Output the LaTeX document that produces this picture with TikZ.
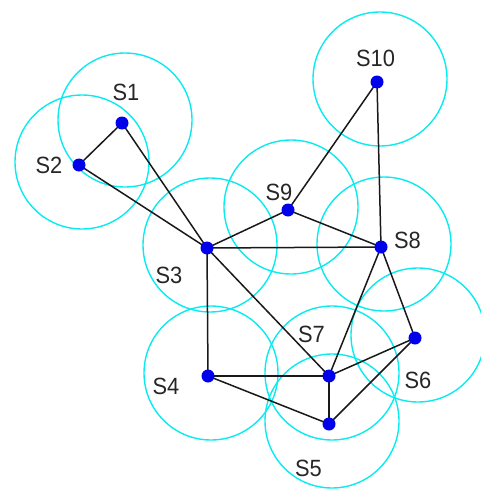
\documentclass[tikz,border=0pt]{standalone}
\usepackage{fontspec}
\setmainfont[FakeStretch=0.93]{Liberation Sans}
\usetikzlibrary{positioning}
\usetikzlibrary{backgrounds}
\definecolor{sensorblue}{RGB}{0,0,235}
\definecolor{rangecyan}{RGB}{10,235,240}
\tikzset{
  sensor/.style={circle, fill=sensorblue, inner sep=0pt, minimum size=13pt},
  rangering/.style={draw=rangecyan, line width=1.4pt},
  link/.style={draw=black!90, line width=1.5pt},
  tag/.style={font=\fontsize{23.5}{24}\selectfont, text=black!85, inner sep=0pt},
}

\begin{document}
\begin{tikzpicture}[x=1pt, y=-1pt]
  \useasboundingbox (0,0) rectangle (481,495);

  % Define nodes
  \node[sensor] (s1) at (122,123) {};
  \node[sensor] (s2) at (79,165) {};
  \node[sensor] (s3) at (207,248) {};
  \node[sensor] (s4) at (208,376) {};
  \node[sensor] (s5) at (329,424) {};
  \node[sensor] (s6) at (415,338) {};
  \node[sensor] (s7) at (329,376) {};
  \node[sensor] (s8) at (381,247) {};
  \node[sensor] (s9) at (288,210) {};
  \node[sensor] (s10) at (377,82) {};

  % Labels
  \node[tag] (l1) at (126,92.5) {S1};
  \node[tag] (l2) at (49,165) {S2};
  \node[tag] (l3) at (169,275) {S3};
  \node[tag] (l4) at (166,386) {S4};
  \node[tag] (l5) at (308.5,468.5) {S5};
  \node[tag] (l6) at (418,380) {S6};
  \node[tag] (l7) at (311.5,334) {S7};
  \node[tag] (l8) at (407.5,240) {S8};
  \node[tag] (l9) at (279,192.5) {S9};
  \node[tag] (l10) at (375.5,58.5) {S10};

  % Ranges
  \begin{scope}[on background layer]
    \foreach \n in {1,...,10}
      \draw[rangering] ([shift={(3,-3)}]s\n.center) circle[radius=67pt];

    % Connect nodes
    \draw[link] (s1.center) -- (s2.center);
    \draw[link] (s1.center) -- (s3.center);
    \draw[link] (s2.center) -- (s3.center);
    \draw[link] (s3.center) -- (s9.center);
    \draw[link] (s3.center) -- (s8.center);
    \draw[link] (s3.center) -- (s4.center);
    \draw[link] (s3.center) -- (s7.center);
    \draw[link] (s9.center) -- (s8.center);
    \draw[link] (s10.center) -- (s9.center);
    \draw[link] (s10.center) -- (s8.center);
    \draw[link] (s8.center) -- (s7.center);
    \draw[link] (s8.center) -- (s6.center);
    \draw[link] (s4.center) -- (s7.center);
    \draw[link] (s4.center) -- (s5.center);
    \draw[link] (s7.center) -- (s5.center);
    \draw[link] (s7.center) -- (s6.center);
    \draw[link] (s5.center) -- (s6.center);
  \end{scope}

\end{tikzpicture}
\end{document}
